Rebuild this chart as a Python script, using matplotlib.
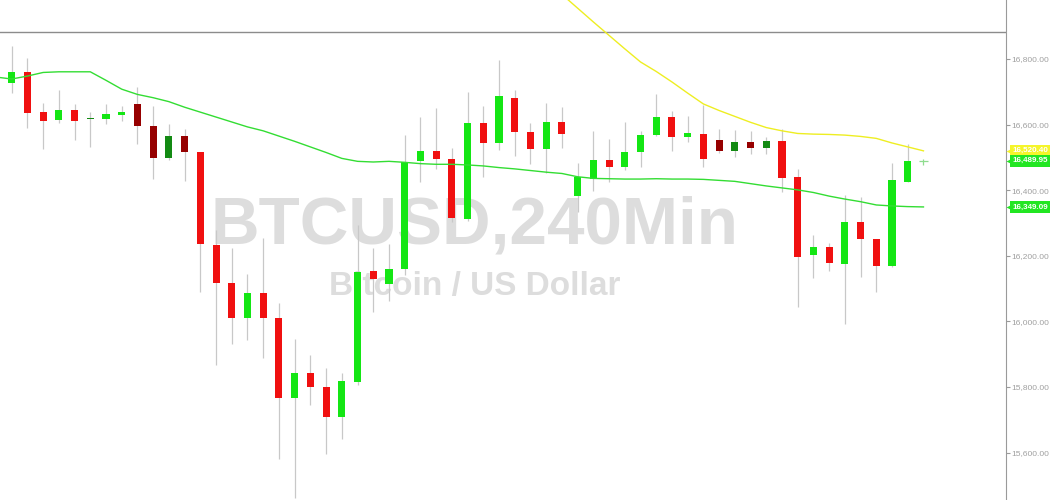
import matplotlib
matplotlib.use('Agg')
import matplotlib.pyplot as plt
from matplotlib.ticker import FuncFormatter
from matplotlib.transforms import blended_transform_factory

# 240 minute BTCUSD candles (oldest first)
opens = [16726, 16760, 16638, 16614, 16645, 16616, 16618, 16630, 16663, 16596,
         16499, 16565, 16516, 16233, 16116, 16010, 16087, 16010, 15766, 15842,
         15800, 15710, 15814, 16154, 16113, 16160, 16489, 16520, 16494, 16312,
         16604, 16545, 16680, 16577, 16525, 16607, 16381, 16435, 16492, 16472,
         16516, 16567, 16622, 16562, 16572, 16554, 16520, 16548, 16530, 16550,
         16439, 16202, 16227, 16175, 16303, 16251, 16170, 16426, 16490]
highs = [16840, 16804, 16667, 16706, 16663, 16638, 16663, 16657, 16716, 16657,
         16602, 16586, 16517, 16279, 16225, 16145, 16255, 16055, 15946, 15898,
         15857, 15842, 16294, 16225, 16235, 16568, 16624, 16650, 16528, 16700,
         16657, 16797, 16706, 16606, 16667, 16655, 16483, 16581, 16556, 16607,
         16579, 16693, 16643, 16626, 16660, 16586, 16584, 16579, 16563, 16588,
         16464, 16264, 16240, 16385, 16378, 16251, 16482, 16541, 16496]
lows = [16697, 16591, 16525, 16606, 16553, 16533, 16601, 16612, 16541, 16435,
        16492, 16429, 16091, 15867, 15930, 15943, 15888, 15580, 15462, 15745,
        15595, 15641, 15806, 16030, 16063, 16142, 16426, 16465, 16304, 16307,
        16439, 16523, 16504, 16480, 16453, 16528, 16335, 16399, 16426, 16462,
        16472, 16565, 16521, 16547, 16472, 16513, 16500, 16511, 16510, 16395,
        16045, 16132, 16154, 15992, 16136, 16091, 16167, 16426, 16477]
closes = [16760, 16636, 16612, 16645, 16611, 16620, 16632, 16638, 16597, 16499,
          16565, 16517, 16235, 16116, 16010, 16087, 16010, 15766, 15842, 15801,
          15710, 15818, 16152, 16129, 16160, 16486, 16520, 16494, 16316, 16604,
          16545, 16688, 16577, 16527, 16607, 16570, 16440, 16492, 16472, 16517,
          16568, 16622, 16563, 16574, 16496, 16520, 16548, 16530, 16551, 16438,
          16197, 16227, 16177, 16303, 16250, 16170, 16431, 16490, 16490]
kinds = ['up', 'dn', 'dn', 'up', 'dn', 'dup', 'up', 'up', 'ddn', 'ddn',
         'dup', 'ddn', 'dn', 'dn', 'dn', 'up', 'dn', 'dn', 'up', 'dn',
         'dn', 'up', 'up', 'dn', 'up', 'up', 'up', 'dn', 'dn', 'up',
         'dn', 'up', 'dn', 'dn', 'up', 'dn', 'up', 'up', 'dn', 'up',
         'up', 'up', 'dn', 'up', 'dn', 'ddn', 'dup', 'ddn', 'dup', 'dn',
         'dn', 'up', 'dn', 'up', 'dn', 'dn', 'up', 'up', 'flat']

# moving averages
ma_fast_start = -1
ma_fast = [16745, 16739, 16748, 16759, 16761, 16761, 16761, 16735, 16708, 16692,
           16682, 16670, 16653, 16638, 16623, 16608, 16593, 16581, 16565, 16549,
           16532, 16515, 16497, 16488, 16486, 16488, 16485, 16481, 16479, 16479,
           16477, 16474, 16469, 16465, 16460, 16455, 16451, 16441, 16436, 16435,
           16434, 16434, 16435, 16434, 16434, 16433, 16430, 16427, 16420, 16413,
           16407, 16401, 16393, 16382, 16373, 16365, 16355, 16352, 16350, 16349]
ma_slow_start = 35
ma_slow = [16997, 16955, 16913, 16872, 16831, 16791, 16762, 16730, 16696, 16663,
           16643, 16625, 16607, 16591, 16581, 16573, 16571, 16570, 16568, 16564,
           16558, 16544, 16532, 16520]

top_level = 16882
y_ticks = [15600, 15800, 16000, 16200, 16400, 16600, 16800]
price_tags = [(16520.40, '#f5f52a'), (16489.95, '#22e622'), (16349.09, '#22e622')]

colors = {'up': '#14e614', 'dn': '#f01010', 'dup': '#138a13', 'ddn': '#960000'}
wick_color = '#c8c8c8'

fig = plt.figure(figsize=(10.5, 5), dpi=100)
ax = fig.add_axes([0, 0, 1006 / 1050, 1])
ax.set_xlim(-0.744, 63.25)
ax.set_ylim(15455.5, 16979.9)

# watermark
ax.text(0.452, 0.513, 'BTCUSD,240Min', transform=fig.transFigure, ha='center',
        va='baseline', fontsize=48.5, fontweight='bold', family='Liberation Sans',
        color='#dddddd', zorder=0)
ax.text(0.452, 0.41, 'Bitcoin / US Dollar', transform=fig.transFigure, ha='center',
        va='baseline', fontsize=24, fontweight='bold', family='Liberation Sans',
        color='#dddddd', zorder=0)

ax.axhline(top_level, color='#8c8c8c', lw=1, zorder=1)

for i in range(len(opens)):
    o, h, l, c = opens[i], highs[i], lows[i], closes[i]
    if kinds[i] == 'flat':
        ax.vlines(i, l, h, color='#8fdc8f', lw=0.9, zorder=2)
        ax.hlines(c, i - 0.3, i + 0.3, color='#8fdc8f', lw=0.9, zorder=2)
        continue
    ax.vlines(i, l, h, color=wick_color, lw=0.9, zorder=2)
    ax.bar(i, max(abs(c - o), 3), bottom=min(o, c), width=0.45,
           color=colors[kinds[i]], lw=0, zorder=3)

ax.plot(range(ma_fast_start, ma_fast_start + len(ma_fast)), ma_fast,
        color='#33dd33', lw=1, zorder=4)
ax.plot(range(ma_slow_start, ma_slow_start + len(ma_slow)), ma_slow,
        color='#eeee22', lw=1, zorder=4)

# right price axis
for s in ['left', 'top', 'bottom']:
    ax.spines[s].set_visible(False)
ax.spines['right'].set_color('#9a9a9a')
ax.set_xticks([])
ax.yaxis.tick_right()
ax.set_yticks(y_ticks)
ax.yaxis.set_major_formatter(FuncFormatter(lambda v, p: '{:,.2f}'.format(v)))
ax.tick_params(axis='y', direction='out', length=3, color='#9a9a9a',
               labelcolor='#a0a0a0', labelsize=6.0, pad=0.5)
for lab in ax.get_yticklabels():
    lab.set_family('Liberation Sans')

trans = blended_transform_factory(ax.transAxes, ax.transData)
for val, col in price_tags:
    ax.plot(1.0048, val, marker='<', ms=7.5, color=col, mec='none',
            transform=trans, clip_on=False, zorder=5)
    ax.text(1.0062, val, '{:,.2f}'.format(val), transform=trans, ha='left',
            va='center', fontsize=5.8, fontweight='bold', family='Liberation Sans',
            color='white', clip_on=False, zorder=6,
            bbox=dict(boxstyle='square,pad=0.3', fc=col, ec='none'))

fig.savefig('out.png', dpi=100)
